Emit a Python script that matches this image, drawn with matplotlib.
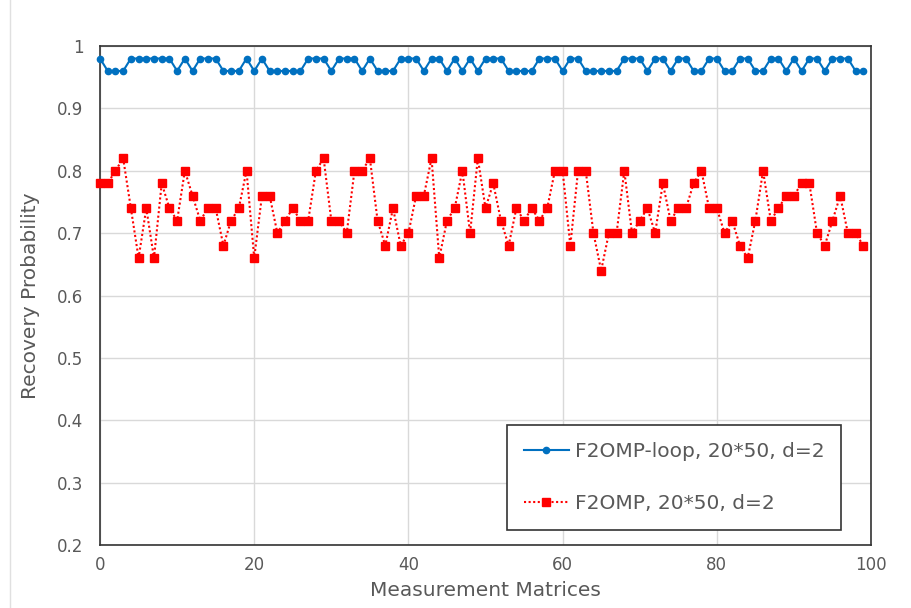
import matplotlib

matplotlib.use("Agg")
import matplotlib.pyplot as plt
from matplotlib.lines import Line2D
from matplotlib.ticker import FormatStrFormatter, MultipleLocator

# measurement matrix index
matrices = list(range(100))

# F2OMP-loop, 20*50, d=2
loop_prob = [
    0.98, 0.96, 0.96, 0.96, 0.98, 0.98, 0.98, 0.98, 0.98, 0.98,
    0.96, 0.98, 0.96, 0.98, 0.98, 0.98, 0.96, 0.96, 0.96, 0.98,
    0.96, 0.98, 0.96, 0.96, 0.96, 0.96, 0.96, 0.98, 0.98, 0.98,
    0.96, 0.98, 0.98, 0.98, 0.96, 0.98, 0.96, 0.96, 0.96, 0.98,
    0.98, 0.98, 0.96, 0.98, 0.98, 0.96, 0.98, 0.96, 0.98, 0.96,
    0.98, 0.98, 0.98, 0.96, 0.96, 0.96, 0.96, 0.98, 0.98, 0.98,
    0.96, 0.98, 0.98, 0.96, 0.96, 0.96, 0.96, 0.96, 0.98, 0.98,
    0.98, 0.96, 0.98, 0.98, 0.96, 0.98, 0.98, 0.96, 0.96, 0.98,
    0.98, 0.96, 0.96, 0.98, 0.98, 0.96, 0.96, 0.98, 0.98, 0.96,
    0.98, 0.96, 0.98, 0.98, 0.96, 0.98, 0.98, 0.98, 0.96, 0.96,
]

# F2OMP, 20*50, d=2
omp_prob = [
    0.78, 0.78, 0.80, 0.82, 0.74, 0.66, 0.74, 0.66, 0.78, 0.74,
    0.72, 0.80, 0.76, 0.72, 0.74, 0.74, 0.68, 0.72, 0.74, 0.80,
    0.66, 0.76, 0.76, 0.70, 0.72, 0.74, 0.72, 0.72, 0.80, 0.82,
    0.72, 0.72, 0.70, 0.80, 0.80, 0.82, 0.72, 0.68, 0.74, 0.68,
    0.70, 0.76, 0.76, 0.82, 0.66, 0.72, 0.74, 0.80, 0.70, 0.82,
    0.74, 0.78, 0.72, 0.68, 0.74, 0.72, 0.74, 0.72, 0.74, 0.80,
    0.80, 0.68, 0.80, 0.80, 0.70, 0.64, 0.70, 0.70, 0.80, 0.70,
    0.72, 0.74, 0.70, 0.78, 0.72, 0.74, 0.74, 0.78, 0.80, 0.74,
    0.74, 0.70, 0.72, 0.68, 0.66, 0.72, 0.80, 0.72, 0.74, 0.76,
    0.76, 0.78, 0.78, 0.70, 0.68, 0.72, 0.76, 0.70, 0.70, 0.68,
]

TEXT = "#595959"

fig = plt.figure(figsize=(9.11, 6.08), dpi=100)
ax = fig.add_axes([0.1098, 0.1036, 0.8463, 0.8207])

ax.plot(matrices, loop_prob, color="#0070C0", lw=1.5, marker="o", ms=4.5,
        label="F2OMP-loop, 20*50, d=2", clip_on=False, zorder=3)
ax.plot(matrices, omp_prob, color="#FF0000", lw=1.5, ls=(0, (1, 1.2)),
        marker="s", ms=5.5, label="F2OMP, 20*50, d=2", clip_on=False, zorder=3)

ax.set_xlim(0, 100)
ax.set_ylim(0.2, 1.0)
ax.xaxis.set_major_locator(MultipleLocator(20))
ax.yaxis.set_major_locator(MultipleLocator(0.1))
ax.yaxis.set_major_formatter(FormatStrFormatter("%g"))
ax.grid(True, color="#d9d9d9", lw=1)
ax.set_axisbelow(True)
ax.tick_params(length=0, labelsize=12, colors=TEXT)
ax.tick_params(axis="y", pad=12)
ax.tick_params(axis="x", pad=8)
for s in ax.spines.values():
    s.set_color("#333333")
    s.set_linewidth(1.2)

ax.set_xlabel("Measurement Matrices", fontsize=14.5, color=TEXT, labelpad=5)
ax.set_ylabel("Recovery Probability", fontsize=14.5, color=TEXT, labelpad=12)

leg = ax.legend(loc="upper left", bbox_to_anchor=(0.528, 0.2405),
                borderaxespad=0, fontsize=14.5, labelspacing=1.65,
                borderpad=0.85, handlelength=2.2, handletextpad=0.3,
                fancybox=False, framealpha=1)
leg.get_frame().set_edgecolor("#333333")
leg.get_frame().set_linewidth(1.2)
for t in leg.get_texts():
    t.set_color(TEXT)

# faint chart-area border on the left
fig.add_artist(Line2D([10 / 911, 10 / 911], [0, 1], color="#e0e0e0", lw=1))

fig.savefig("out.png", dpi=100)
